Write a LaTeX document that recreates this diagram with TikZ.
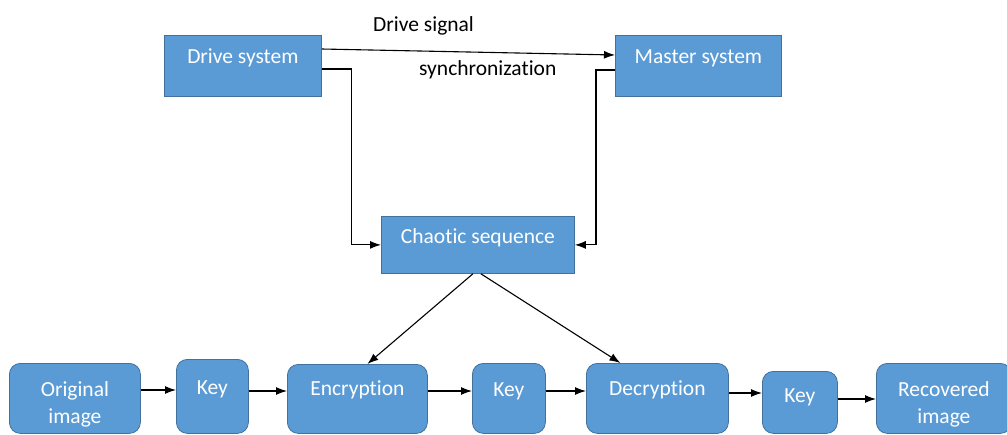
\documentclass[tikz,border=0pt]{standalone}
\usepackage{fontspec}
\setmainfont{Carlito}[Ligatures={NoCommon,NoContextual}]
\usetikzlibrary{arrows.meta}
\definecolor{boxfill}{HTML}{5B9BD5}
\definecolor{boxline}{HTML}{41719C}
\begin{document}
\begin{tikzpicture}[x=1pt,y=-1pt,
  every node/.style={font=\fontsize{21.5}{27}\selectfont},
  box/.style={draw=boxline, line width=0.8pt, fill=boxfill, text=white, inner sep=0pt, anchor=north west},
  rbox/.style={box, rounded corners=11pt},
  lbl/.style={inner sep=0pt, anchor=base west, text=black},
  arr/.style={draw=black, line width=1.1pt, -{Latex[length=11pt,width=8pt]}}]
\useasboundingbox (0,0) rectangle (1007,434);
% top boxes
\node[box, minimum width=157pt, text height=28pt, text depth=33pt] (drive) at (164,35) {Drive system};
\node[box, minimum width=166pt, text height=28pt, text depth=33pt] (master) at (615,35) {Master system};
\node[box, minimum width=193pt, text height=27pt, text depth=30pt] (chaotic) at (381,216) {Chaotic sequence};
% bottom row
\node[rbox, minimum width=131pt, text height=33pt, text depth=37pt] (orig) at (9,363) {\begin{tabular}[t]{@{}c@{}}Original\\image\end{tabular}};
\node[rbox, minimum width=72pt, text height=35pt, text depth=39pt] (key1) at (176,359) {Key};
\node[rbox, minimum width=140pt, text height=31pt, text depth=38pt] (enc) at (287,364) {Encryption};
\node[rbox, minimum width=73pt, text height=33pt, text depth=37pt] (key2) at (472,363) {Key};
\node[rbox, minimum width=142pt, text height=32pt, text depth=38pt] (dec) at (586,363) {Decryption};
\node[rbox, minimum width=75pt, text height=31pt, text depth=31pt] (key3) at (762,371) {Key};
\node[rbox, minimum width=135pt, text height=33pt, text depth=37pt] (rec) at (876,363) {\begin{tabular}[t]{@{}c@{}}Recovered\\image\end{tabular}};
% labels
\node[lbl] (dsig) at (373,31) {Drive signal};
\node[lbl] (sync) at (419,75) {synchronization};
% connectors
\draw[arr] ([yshift=-14pt]drive.north east) -- ([yshift=-20pt]master.north west);
\draw[arr] ([yshift=-34pt]drive.north east) -- ++(30,0) |- (chaotic.west);
\draw[arr] ([yshift=-35pt]master.north west) -- ++(-19,0) |- (chaotic.east);
\draw[arr] ([xshift=-5pt]chaotic.south) -- ([xshift=10pt]enc.north);
\draw[arr] ([xshift=3pt]chaotic.south) -- ([xshift=-37pt]dec.north);
\draw[arr] ([yshift=-27pt]orig.north east) -- ([yshift=-31pt]key1.north west);
\draw[arr] ([yshift=-32pt]key1.north east) -- ([yshift=-27pt]enc.north west);
\draw[arr] ([yshift=-27pt]enc.north east) -- ([yshift=-28pt]key2.north west);
\draw[arr] ([yshift=-28pt]key2.north east) -- ([yshift=-28pt]dec.north west);
\draw[arr] ([yshift=-30pt]dec.north east) -- ([yshift=-22pt]key3.north west);
\draw[arr] ([yshift=-28pt]key3.north east) -- ([yshift=-36pt]rec.north west);
\end{tikzpicture}
\end{document}
